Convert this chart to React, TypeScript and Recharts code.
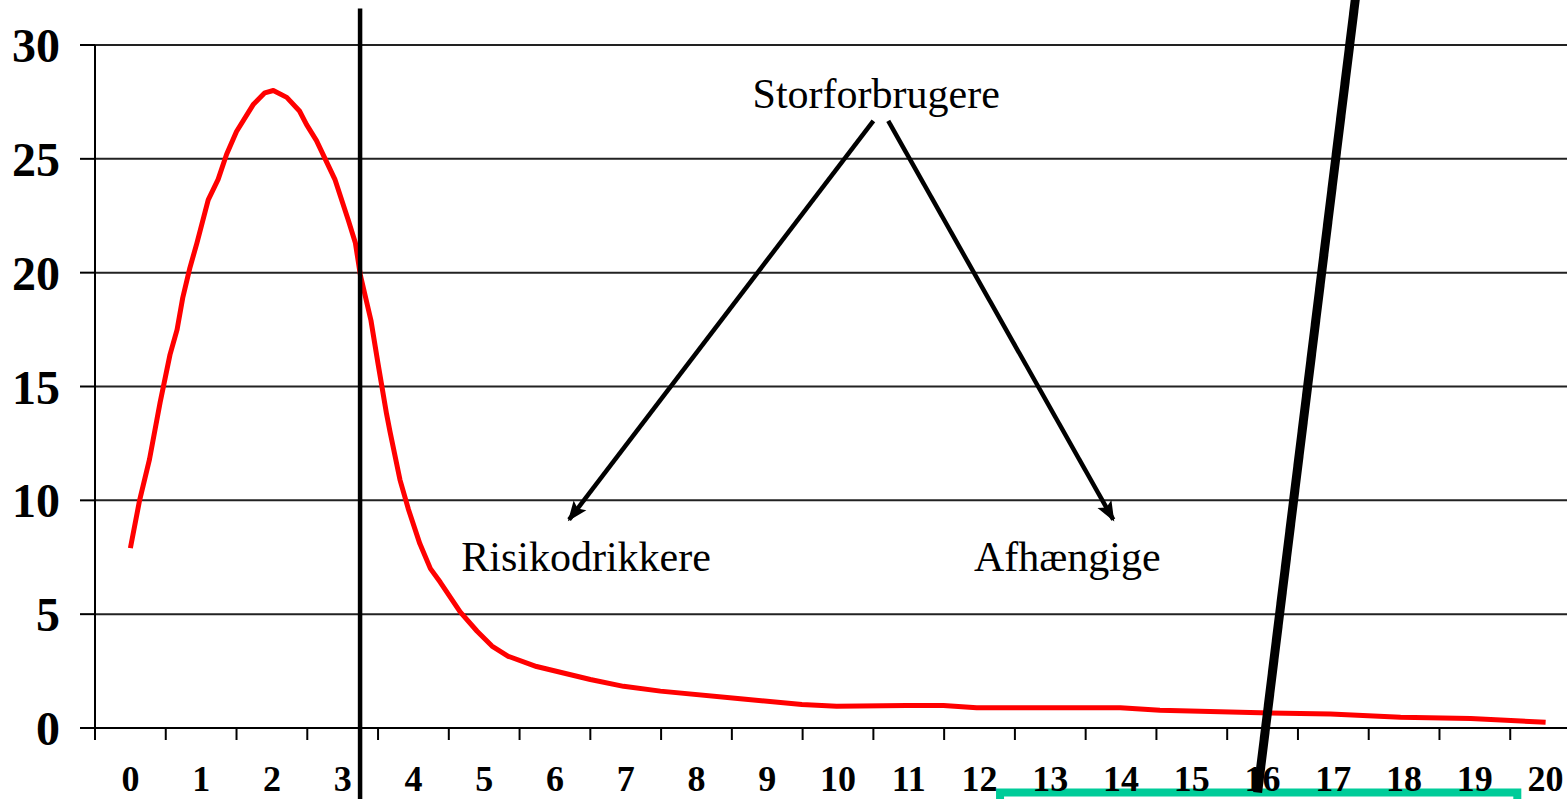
import React from "react";
import {
  LineChart,
  Line,
  XAxis,
  YAxis,
  CartesianGrid,
  ReferenceLine,
  ReferenceArea,
  ReferenceDot,
} from "recharts";

// Curve (units drunk per week -> share in %)
const curveX = [
  0, 0.13, 0.27, 0.42, 0.56, 0.66, 0.74, 0.84, 0.94, 1.1, 1.24, 1.36, 1.5, 1.74, 1.9, 2.02,
  2.21, 2.39, 2.49, 2.63, 2.89, 3.08, 3.18, 3.25, 3.4, 3.5, 3.62, 3.67, 3.81, 3.93, 4.09,
  4.24, 4.38, 4.66, 4.9, 5.11, 5.34, 5.74, 6.5, 6.97, 7.49, 8.62, 9.49, 9.98, 10.97, 11.49,
  11.96, 13.99, 14.55, 15.97, 16.96, 17.95, 18.94, 20,
];
const curveY = [
  7.9, 10.0, 11.8, 14.3, 16.4, 17.5, 18.9, 20.2, 21.3, 23.2, 24.1, 25.2, 26.2, 27.4, 27.9, 28.0,
  27.7, 27.1, 26.5, 25.8, 24.1, 22.3, 21.3, 19.9, 17.9, 16.0, 13.8, 13.0, 10.9, 9.6, 8.1,
  7.0, 6.4, 5.1, 4.25, 3.6, 3.15, 2.7, 2.13, 1.83, 1.62, 1.28, 1.03, 0.96, 0.99, 0.99,
  0.89, 0.89, 0.78, 0.67, 0.62, 0.47, 0.42, 0.25,
];

const xCategories = Array.from({ length: 21 }, (_, i) => i);
const yTicks = [0, 5, 10, 15, 20, 25, 30];

// annotation positions in data units
const splitLineX = 3.246;
const labelTop = { text: "Storforbrugere", x: 10.54, y: 27.9 };
const labelLeft = { text: "Risikodrikkere", x: 6.44, y: 7.54 };
const labelRight = { text: "Afhængige", x: 13.24, y: 7.54 };
const arrowLeft = [{ x: 10.5, y: 26.67 }, { x: 6.2, y: 9.15 }];
const arrowRight = [{ x: 10.71, y: 26.67 }, { x: 13.89, y: 9.15 }];
const slashLine = [{ x: 17.35, y: 33 }, { x: 15.93, y: -2.83 }];
const boxX = [12.29, 19.6];

const serif = "'Times New Roman', 'Liberation Serif', serif";

const chartData = curveX.map((x, i) => ({ x, y: curveY[i] }));

// boundaries get a tick mark, centres get the number
const xTicks: number[] = [];
xCategories.forEach((c) => {
  xTicks.push(c - 0.5);
  xTicks.push(c);
});
xTicks.push(20.5);

const XTick = (props: any) => {
  const { x, y, payload } = props;
  const v = payload.value;
  if (Number.isInteger(v)) {
    return (
      <text x={x} y={y + 63} textAnchor="middle" fontFamily={serif} fontWeight="bold" fontSize={36} fill="#000">
        {v}
      </text>
    );
  }
  return <line x1={x} y1={y} x2={x} y2={y + 12} stroke="#000" strokeWidth={2} />;
};

const labelStyle = (value: string) => ({
  value,
  position: "center" as const,
  fontSize: 42,
  fontFamily: serif,
  fill: "#000",
});

export default function App() {
  return (
    <div
      style={{
        position: "fixed",
        left: 0,
        top: 0,
        width: 1567,
        height: 799,
        overflow: "hidden",
        background: "#fff",
      }}
    >
      <svg width={0} height={0} style={{ position: "absolute" }}>
        <defs>
          <marker
            id="arrowHead"
            markerUnits="userSpaceOnUse"
            markerWidth={22}
            markerHeight={18}
            refX={18}
            refY={9}
            orient="auto"
          >
            <path d="M0,1 L20,9 L0,17 L4,9 z" fill="#000" />
          </marker>
        </defs>
      </svg>
      <LineChart width={1581} height={799} data={chartData} margin={{ top: 45, right: 0, bottom: 0, left: 0 }}>
        <CartesianGrid vertical={false} stroke="#222" strokeWidth={2} />
        <XAxis
          type="number"
          dataKey="x"
          domain={[-0.5, 20.5]}
          ticks={xTicks}
          interval={0}
          height={71}
          tickSize={0}
          tickMargin={0}
          tickLine={false}
          tick={<XTick />}
          axisLine={{ stroke: "#000", strokeWidth: 2 }}
        />
        <YAxis
          type="number"
          domain={[0, 30]}
          ticks={yTicks}
          width={95}
          tickSize={15}
          tickMargin={20}
          tickLine={{ stroke: "#000", strokeWidth: 2 }}
          axisLine={{ stroke: "#000", strokeWidth: 2 }}
          tick={{ fontFamily: serif, fontWeight: "bold", fontSize: 48, fill: "#000" }}
        />
        <Line
          type="linear"
          dataKey="y"
          stroke="#ff0000"
          strokeWidth={5}
          strokeLinejoin="round"
          dot={false}
          activeDot={false}
          isAnimationActive={false}
        />
        <ReferenceLine
          segment={[{ x: splitLineX, y: 31.6 }, { x: splitLineX, y: -3.2 }]}
          stroke="#000"
          strokeWidth={4.5}
          ifOverflow="visible"
        />
        <ReferenceLine segment={arrowLeft} stroke="#000" strokeWidth={4.5} markerEnd="url(#arrowHead)" ifOverflow="visible" />
        <ReferenceLine segment={arrowRight} stroke="#000" strokeWidth={4.5} markerEnd="url(#arrowHead)" ifOverflow="visible" />
        <ReferenceArea
          x1={boxX[0]}
          x2={boxX[1]}
          y1={-2.83}
          y2={-4}
          fill="none"
          fillOpacity={0}
          stroke="#00cc99"
          strokeWidth={8}
          ifOverflow="visible"
        />
        <ReferenceLine segment={slashLine} stroke="#000" strokeWidth={9} ifOverflow="visible" />
        <ReferenceDot x={labelTop.x} y={labelTop.y} r={0} stroke="none" fill="none" ifOverflow="visible" label={labelStyle(labelTop.text)} />
        <ReferenceDot x={labelLeft.x} y={labelLeft.y} r={0} stroke="none" fill="none" ifOverflow="visible" label={labelStyle(labelLeft.text)} />
        <ReferenceDot x={labelRight.x} y={labelRight.y} r={0} stroke="none" fill="none" ifOverflow="visible" label={labelStyle(labelRight.text)} />
      </LineChart>
    </div>
  );
}
